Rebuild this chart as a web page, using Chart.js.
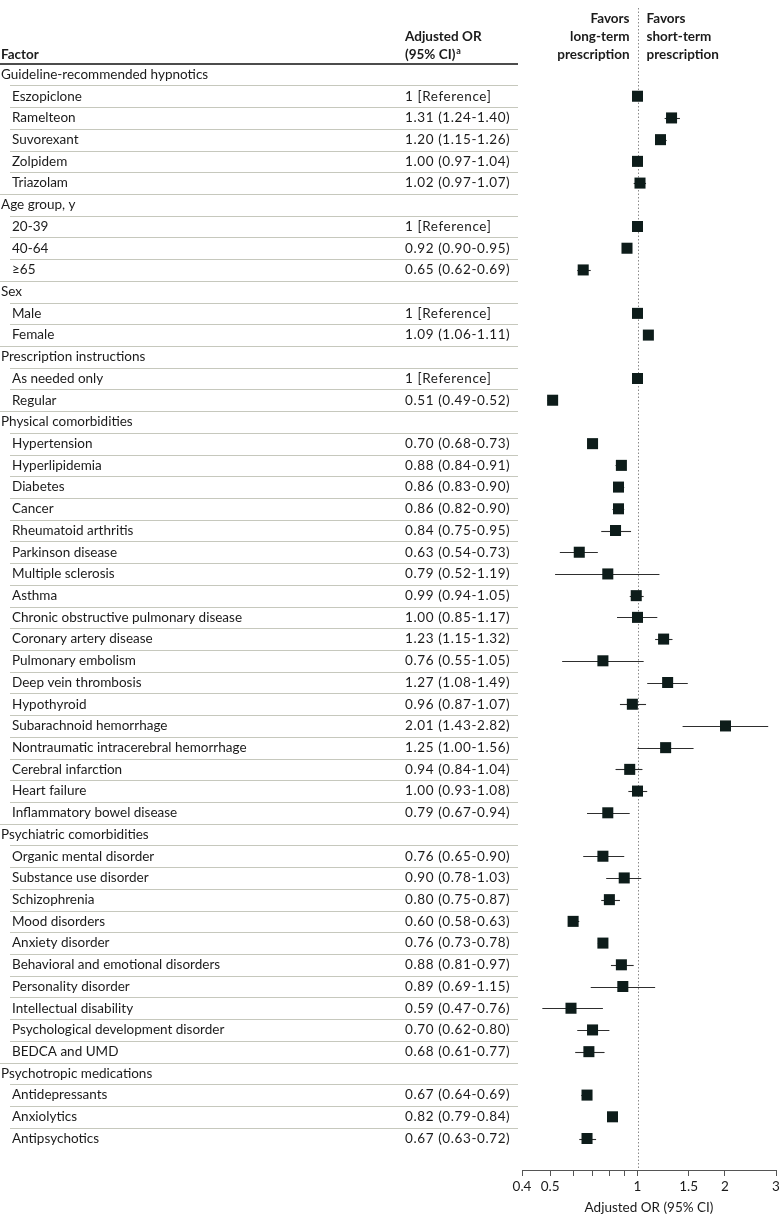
<!DOCTYPE html>
<html>
<head>
<meta charset="utf-8">
<script src="https://cdn.jsdelivr.net/npm/chart.js@4"></script>
<style>
  html, body { margin: 0; padding: 0; background: #fff; }
  #wrap { width: 780px; height: 1225px; }
</style>
</head>
<body>
<div id="wrap"><canvas id="forestChart" width="780" height="1225"></canvas></div>
<script>
// ===== DATA =====

const factors = [
  'Guideline-recommended hypnotics', 'Eszopiclone', 'Ramelteon', 'Suvorexant', 'Zolpidem', 'Triazolam',
  'Age group, y', '20-39', '40-64', '≥65',
  'Sex', 'Male', 'Female',
  'Prescription instructions', 'As needed only', 'Regular',
  'Physical comorbidities', 'Hypertension', 'Hyperlipidemia', 'Diabetes', 'Cancer', 'Rheumatoid arthritis',
  'Parkinson disease', 'Multiple sclerosis', 'Asthma', 'Chronic obstructive pulmonary disease',
  'Coronary artery disease', 'Pulmonary embolism', 'Deep vein thrombosis', 'Hypothyroid',
  'Subarachnoid hemorrhage', 'Nontraumatic intracerebral hemorrhage', 'Cerebral infarction',
  'Heart failure', 'Inflammatory bowel disease',
  'Psychiatric comorbidities', 'Organic mental disorder', 'Substance use disorder', 'Schizophrenia',
  'Mood disorders', 'Anxiety disorder', 'Behavioral and emotional disorders', 'Personality disorder',
  'Intellectual disability', 'Psychological development disorder', 'BEDCA and UMD',
  'Psychotropic medications', 'Antidepressants', 'Anxiolytics', 'Antipsychotics'
];

// null = group heading row
const oddsRatio = [
  null, 1, 1.31, 1.20, 1.00, 1.02,
  null, 1, 0.92, 0.65,
  null, 1, 1.09,
  null, 1, 0.51,
  null, 0.70, 0.88, 0.86, 0.86, 0.84, 0.63, 0.79, 0.99, 1.00, 1.23, 0.76, 1.27, 0.96, 2.01, 1.25, 0.94, 1.00, 0.79,
  null, 0.76, 0.90, 0.80, 0.60, 0.76, 0.88, 0.89, 0.59, 0.70, 0.68,
  null, 0.67, 0.82, 0.67
];

// null on a non-heading row = reference category
const ciLow = [
  null, null, 1.24, 1.15, 0.97, 0.97,
  null, null, 0.90, 0.62,
  null, null, 1.06,
  null, null, 0.49,
  null, 0.68, 0.84, 0.83, 0.82, 0.75, 0.54, 0.52, 0.94, 0.85, 1.15, 0.55, 1.08, 0.87, 1.43, 1.00, 0.84, 0.93, 0.67,
  null, 0.65, 0.78, 0.75, 0.58, 0.73, 0.81, 0.69, 0.47, 0.62, 0.61,
  null, 0.64, 0.79, 0.63
];

const ciHigh = [
  null, null, 1.40, 1.26, 1.04, 1.07,
  null, null, 0.95, 0.69,
  null, null, 1.11,
  null, null, 0.52,
  null, 0.73, 0.91, 0.90, 0.90, 0.95, 0.73, 1.19, 1.05, 1.17, 1.32, 1.05, 1.49, 1.07, 2.82, 1.56, 1.04, 1.08, 0.94,
  null, 0.90, 1.03, 0.87, 0.63, 0.78, 0.97, 1.15, 0.76, 0.80, 0.77,
  null, 0.69, 0.84, 0.72
];

const tickValues = [0.4, 0.5, 0.6, 0.7, 0.8, 0.9, 1, 1.5, 2, 3];
const tickLabels = [0.4, 0.5, 1, 1.5, 2, 3];

// ===== HELPERS =====

const FONT = 'Lato, "Liberation Sans", sans-serif';
const TEXT = '#1b1b1b';
const isHeading = i => oddsRatio[i] === null;

function valueText(i) {
  if (isHeading(i)) return '';
  if (ciLow[i] === null) return '1 [Reference]';
  return oddsRatio[i].toFixed(2) + ' (' + ciLow[i].toFixed(2) + '-' + ciHigh[i].toFixed(2) + ')';
}

const points = [];
oddsRatio.forEach((v, i) => { if (v !== null) points.push({ x: v, y: i }); });

// ===== TABLE, HEADER, REFERENCE LINE AND CI BARS =====

const forestPlugin = {
  id: 'forest',
  beforeDatasetsDraw(chart) {
    const { ctx, chartArea, scales } = chart;
    const x = scales.x, y = scales.y;

    // dotted line at OR = 1
    ctx.save();
    ctx.strokeStyle = '#8a8a8a';
    ctx.lineWidth = 1;
    ctx.setLineDash([1.5, 2]);
    const x1 = Math.round(x.getPixelForValue(1)) + 0.5;
    ctx.beginPath();
    ctx.moveTo(x1, chartArea.top);
    ctx.lineTo(x1, chartArea.bottom);
    ctx.stroke();
    ctx.restore();

    // confidence intervals
    ctx.save();
    ctx.strokeStyle = '#2e2e2e';
    ctx.lineWidth = 1.1;
    ciLow.forEach((lo, i) => {
      if (lo === null) return;
      const py = Math.round(y.getPixelForValue(i)) + 0.5;
      ctx.beginPath();
      ctx.moveTo(x.getPixelForValue(lo), py);
      ctx.lineTo(x.getPixelForValue(ciHigh[i]), py);
      ctx.stroke();
    });
    ctx.restore();
  },
  afterDraw(chart) {
    const { ctx, scales } = chart;
    const y = scales.y;
    const x1 = scales.x.getPixelForValue(1);
    const tableRight = 518;

    ctx.save();

    // row separators
    ctx.strokeStyle = '#c6c8bd';
    ctx.lineWidth = 1;
    for (let i = 0; i < factors.length - 1; i++) {
      const py = Math.round((y.getPixelForValue(i) + y.getPixelForValue(i + 1)) / 2) + 0.5;
      ctx.beginPath();
      ctx.moveTo(isHeading(i + 1) ? 0 : 10, py);
      ctx.lineTo(tableRight, py);
      ctx.stroke();
    }

    // header rule
    ctx.strokeStyle = '#111';
    ctx.lineWidth = 1.6;
    const ruleY = Math.round(y.getPixelForValue(-0.5));
    ctx.beginPath();
    ctx.moveTo(0, ruleY);
    ctx.lineTo(tableRight, ruleY);
    ctx.stroke();

    // table text
    ctx.fillStyle = TEXT;
    ctx.textBaseline = 'middle';
    ctx.textAlign = 'left';
    factors.forEach((label, i) => {
      const py = y.getPixelForValue(i);
      ctx.font = '13.5px ' + FONT;
      ctx.letterSpacing = '0px';
      ctx.fillText(label, isHeading(i) ? 1 : 12, py);
      ctx.letterSpacing = '0.6px';
      ctx.fillText(valueText(i), 405, py);
    });
    ctx.letterSpacing = '0px';

    // column headers
    ctx.font = 'bold 13.5px ' + FONT;
    ctx.textAlign = 'left';
    ctx.fillText('Factor', 1, 55);
    ctx.fillText('Adjusted OR', 405, 37);
    ctx.fillText('(95% CI)', 405, 55);
    const w = ctx.measureText('(95% CI)').width;
    ctx.font = 'bold 9px ' + FONT;
    ctx.fillText('a', 405 + w + 1, 51);

    ctx.font = 'bold 13.5px ' + FONT;
    ctx.textAlign = 'right';
    ['Favors', 'long-term', 'prescription'].forEach((t, k) => ctx.fillText(t, x1 - 8, 19 + k * 18));
    ctx.textAlign = 'left';
    ['Favors', 'short-term', 'prescription'].forEach((t, k) => ctx.fillText(t, x1 + 9, 19 + k * 18));

    ctx.restore();
  }
};

// ===== CHART =====

const ctx = document.getElementById('forestChart').getContext('2d');
const forestChart = new Chart(ctx, {
  type: 'scatter',
  data: {
    datasets: [{
      data: points,
      pointStyle: 'rect',
      pointRadius: 7.8,
      pointHoverRadius: 7.8,
      backgroundColor: '#0d1c1a',
      borderWidth: 0
    }]
  },
  options: {
    responsive: false,
    animation: false,
    devicePixelRatio: 1,
    layout: { autoPadding: false, padding: { left: 522, right: 4, top: 8, bottom: 0 } },
    plugins: {
      legend: { display: false },
      tooltip: { enabled: false }
    },
    scales: {
      x: {
        type: 'logarithmic',
        min: 0.4,
        max: 3,
        afterBuildTicks: scale => {
          scale.ticks = tickValues.map(v => ({ value: v }));
        },
        afterFit: scale => {
          scale.height = 55;
          scale.paddingLeft = 0;
          scale.paddingRight = 0;
        },
        ticks: {
          autoSkip: false,
          maxRotation: 0,
          padding: 3,
          color: TEXT,
          font: { family: FONT, size: 13.5 },
          callback: v => tickLabels.includes(v) ? String(v) : ''
        },
        grid: { drawOnChartArea: false, drawTicks: true, tickLength: 6, color: '#555' },
        border: { color: '#555', width: 1 },
        title: {
          display: true,
          text: 'Adjusted OR (95% CI)',
          color: TEXT,
          font: { family: FONT, size: 13.5 },
          padding: { top: 2, bottom: 9 }
        }
      },
      y: {
        type: 'linear',
        display: false,
        reverse: true,
        min: -3.063,
        max: 50.45
      }
    }
  },
  plugins: [forestPlugin]
});
</script>
</body>
</html>
